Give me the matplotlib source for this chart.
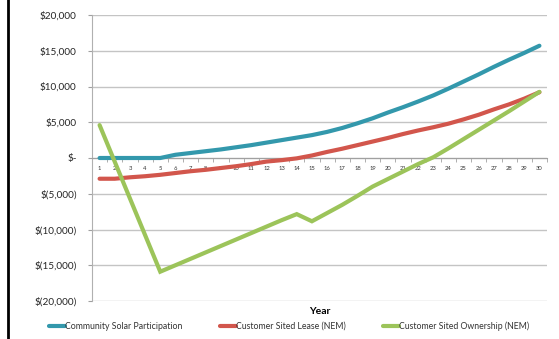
import matplotlib
matplotlib.use("Agg")
import matplotlib.pyplot as plt
from matplotlib.lines import Line2D
from matplotlib.ticker import FixedLocator, NullFormatter

plt.rcParams['font.family'] = ['Lato', 'DejaVu Sans']

# Данные (чтение с графика)
years = list(range(1, 31))
community = [0, 0, 0, 0, 0, 450, 700, 950, 1200, 1500, 1800, 2150, 2500, 2850, 3200,
             3650, 4200, 4850, 5550, 6350, 7100, 7900, 8750, 9700, 10700, 11700,
             12750, 13750, 14700, 15700]
lease = [-2900, -2900, -2700, -2550, -2350, -2100, -1850, -1650, -1400, -1150, -850,
         -500, -300, -50, 350, 850, 1300, 1800, 2300, 2800, 3350, 3850, 4300, 4800,
         5400, 6050, 6800, 7500, 8300, 9200]
ownership = [4600, -525, -5650, -10775, -15900, -15000, -14100, -13200, -12300,
             -11400, -10500, -9600, -8700, -7850, -8850, -7700, -6550, -5300, -4000,
             -2950, -1900, -850, 100, 1350, 2650, 3950, 5250, 6550, 7900, 9250]
series_names = ['Community Solar Participation', 'Customer Sited Lease (NEM)',
                'Customer Sited Ownership (NEM)']
y_ticks = [20000, 15000, 10000, 5000, 0, -5000, -10000, -15000, -20000]
y_labels = ['$20,000', '$15,000', '$10,000', '$5,000', '$-', '$(5,000)',
            '$(10,000)', '$(15,000)', '$(20,000)']

W, H = 559, 339
fig = plt.figure(figsize=(W / 100, H / 100), dpi=100)
ax = fig.add_axes([92 / W, 1 - 301 / H, (547 - 92) / W, (301 - 15) / H])

colors = ['#3398AC', '#D2564C', '#9CC45A']
for vals, name, c in zip([community, lease, ownership], series_names, colors):
    ax.plot(years, vals, color=c, lw=3, label=name, solid_capstyle='round',
            solid_joinstyle='miter', zorder=3)

ax.set_xlim(0.5, 30.5)
ax.set_ylim(-20000, 20000)

# Сетка
ax.set_yticks(y_ticks)
ax.set_yticklabels(y_labels, fontsize=7.2, color='#262626')
ax.yaxis.grid(True, color='#C4C4C4', lw=1)
ax.tick_params(axis='y', length=3, color='#A0A0A0', pad=8)

# Ось X на нуле
ax.spines['top'].set_visible(False)
ax.spines['right'].set_visible(False)
ax.spines['left'].set_color('#B0B0B0')
ax.spines['bottom'].set_position(('data', 0))
ax.spines['bottom'].set_color('#A0A0A0')
ax.set_xticks(years)
ax.set_xticklabels([str(y) for y in years], fontsize=4.2, color='#333333')
ax.xaxis.set_minor_locator(FixedLocator([y + 0.5 for y in range(0, 31)]))
ax.xaxis.set_minor_formatter(NullFormatter())
ax.tick_params(axis='x', which='major', length=0, pad=6)
ax.tick_params(axis='x', which='minor', length=3, color='#A0A0A0')

fig.text(319.5 / W, 1 - 311 / H, 'Year', ha='center', va='center',
         fontsize=7.5, fontweight='bold')

fig.legend(loc='center', bbox_to_anchor=(289 / W, 1 - 326 / H), ncol=3,
           frameon=False, fontsize=6.3, handlelength=1.8, handletextpad=0,
           columnspacing=4.3, labelcolor='#333333')

# Черная линия слева
fig.add_artist(Line2D([8 / W, 8 / W], [0, 1], color='black', lw=2))

fig.savefig('out.png', dpi=100)
